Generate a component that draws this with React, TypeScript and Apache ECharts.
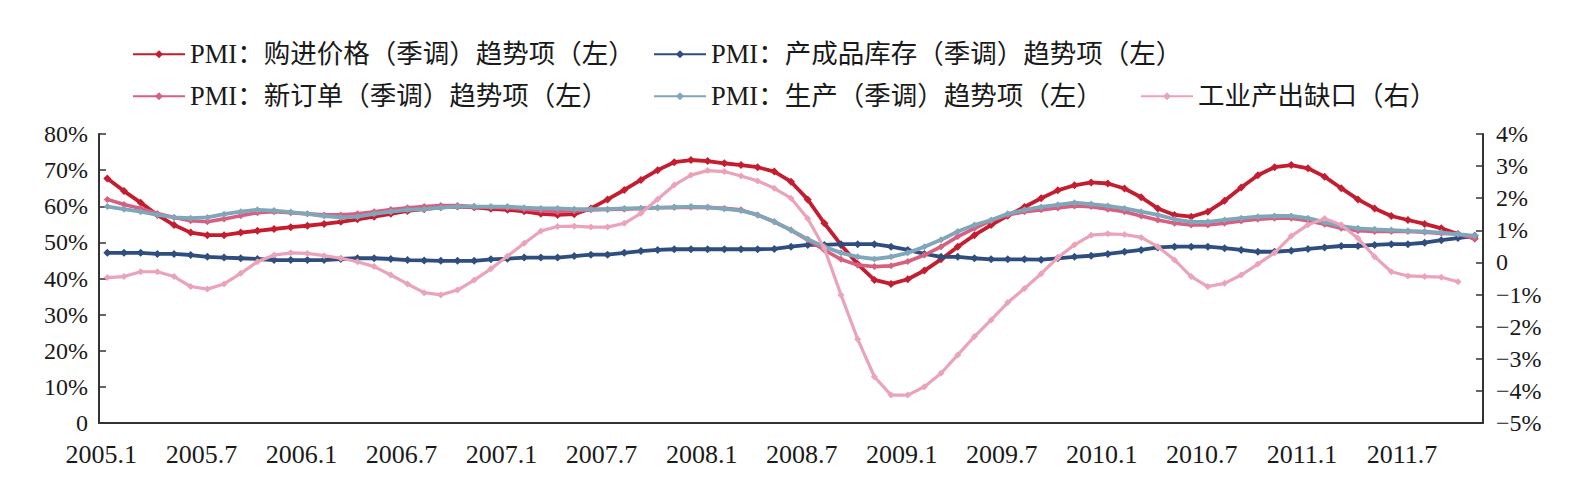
import React, { useEffect, useRef } from "react";
import * as echarts from "echarts";

const categories = [
  "2005.1", "2005.2", "2005.3", "2005.4", "2005.5", "2005.6", "2005.7", "2005.8", "2005.9", "2005.10", "2005.11", "2005.12",
  "2006.1", "2006.2", "2006.3", "2006.4", "2006.5", "2006.6", "2006.7", "2006.8", "2006.9", "2006.10", "2006.11", "2006.12",
  "2007.1", "2007.2", "2007.3", "2007.4", "2007.5", "2007.6", "2007.7", "2007.8", "2007.9", "2007.10", "2007.11", "2007.12",
  "2008.1", "2008.2", "2008.3", "2008.4", "2008.5", "2008.6", "2008.7", "2008.8", "2008.9", "2008.10", "2008.11", "2008.12",
  "2009.1", "2009.2", "2009.3", "2009.4", "2009.5", "2009.6", "2009.7", "2009.8", "2009.9", "2009.10", "2009.11", "2009.12",
  "2010.1", "2010.2", "2010.3", "2010.4", "2010.5", "2010.6", "2010.7", "2010.8", "2010.9", "2010.10", "2010.11", "2010.12",
  "2011.1", "2011.2", "2011.3", "2011.4", "2011.5", "2011.6", "2011.7", "2011.8", "2011.9", "2011.10", "2011.11",
];

const seriesNames = [
  "PMI：购进价格（季调）趋势项（左）",
  "PMI：产成品库存（季调）趋势项（左）",
  "PMI：新订单（季调）趋势项（左）",
  "PMI：生产（季调）趋势项（左）",
  "工业产出缺口（右）",
];

// left axis, %
const purchasePrice = [
  67.7, 64.2, 61.0, 57.6, 54.8, 52.7, 52.0, 52.0, 52.7, 53.2, 53.7, 54.2,
  54.6, 55.1, 55.7, 56.4, 57.1, 57.9, 58.7, 59.2, 59.7, 59.9, 59.7, 59.3,
  59.0, 58.6, 57.9, 57.6, 57.8, 59.4, 61.9, 64.5, 67.3, 70.0, 72.2, 72.8,
  72.5, 71.9, 71.4, 70.8, 69.6, 66.8, 61.9, 55.3, 49.3, 44.0, 39.6, 38.5,
  39.8, 42.2, 45.3, 48.8, 52.0, 54.8, 57.4, 59.8, 62.2, 64.4, 65.8, 66.6,
  66.3, 64.9, 62.5, 59.4, 57.6, 57.1, 58.5, 61.5, 65.2, 68.6, 70.8, 71.4,
  70.5, 68.2, 65.0, 61.9, 59.4, 57.3, 56.2, 55.1, 53.9, 52.3, 51.1,
];

const finishedInventory = [
  47.1, 47.1, 47.1, 46.8, 46.8, 46.5, 46.0, 45.8, 45.6, 45.4, 45.1, 45.1,
  45.1, 45.1, 45.4, 45.6, 45.6, 45.4, 45.1, 45.0, 44.9, 44.9, 44.9, 45.3,
  45.5, 45.8, 45.8, 45.8, 46.2, 46.6, 46.6, 47.1, 47.6, 47.9, 48.1, 48.1,
  48.1, 48.1, 48.1, 48.1, 48.2, 48.8, 49.3, 49.3, 49.5, 49.5, 49.5, 48.8,
  47.9, 46.8, 46.0, 46.0, 45.6, 45.3, 45.3, 45.3, 45.2, 45.6, 46.0, 46.3,
  46.8, 47.4, 47.9, 48.6, 48.8, 48.8, 48.8, 48.4, 47.9, 47.4, 47.4, 47.7,
  48.2, 48.6, 49.0, 49.0, 49.3, 49.5, 49.5, 49.9, 50.6, 51.2, 51.8,
];

const newOrders = [
  61.9, 60.5, 59.4, 58.0, 56.9, 56.0, 55.7, 56.5, 57.4, 58.2, 58.5, 58.2,
  57.9, 57.6, 57.6, 57.9, 58.5, 59.1, 59.6, 59.9, 60.2, 60.2, 59.9, 59.7,
  59.6, 59.2, 58.8, 58.5, 58.7, 59.0, 59.1, 59.2, 59.4, 59.6, 59.7, 59.7,
  59.7, 59.4, 59.0, 57.6, 55.7, 53.4, 50.7, 47.9, 45.3, 43.7, 43.3, 43.5,
  44.7, 46.5, 48.8, 51.6, 53.9, 56.0, 57.6, 58.5, 59.0, 59.5, 60.1, 59.9,
  59.2, 58.5, 57.3, 56.2, 55.3, 54.8, 54.8, 55.3, 55.9, 56.4, 56.7, 56.7,
  56.0, 55.0, 53.9, 53.2, 53.0, 53.0, 53.0, 52.8, 52.5, 52.3, 51.1,
];

const production = [
  59.9, 59.2, 58.5, 57.6, 56.9, 56.7, 56.9, 57.8, 58.5, 59.0, 58.8, 58.4,
  57.9, 57.3, 56.9, 57.1, 57.9, 58.5, 59.0, 59.2, 59.6, 59.9, 59.9, 59.9,
  59.9, 59.6, 59.4, 59.4, 59.2, 59.2, 59.2, 59.4, 59.4, 59.6, 59.7, 59.9,
  59.7, 59.3, 58.8, 57.6, 55.7, 53.4, 50.9, 48.8, 47.1, 46.0, 45.4, 46.0,
  47.1, 48.8, 50.7, 53.0, 54.8, 56.2, 57.9, 59.0, 59.8, 60.4, 61.0, 60.6,
  60.1, 59.4, 58.5, 57.6, 56.4, 55.7, 55.7, 56.2, 56.7, 57.1, 57.3, 57.3,
  56.7, 55.6, 54.5, 53.9, 53.6, 53.4, 53.2, 53.0, 52.7, 52.3, 51.8,
];

// right axis, %
const outputGap = [
  -0.47, -0.44, -0.29, -0.29, -0.44, -0.75, -0.83, -0.67, -0.34, 0.02, 0.23, 0.30,
  0.28, 0.21, 0.13, 0.02, -0.13, -0.39, -0.67, -0.94, -1.01, -0.86, -0.55, -0.2,
  0.2, 0.6, 0.98, 1.12, 1.13, 1.10, 1.10, 1.22, 1.53, 1.97, 2.41, 2.72,
  2.86, 2.83, 2.69, 2.54, 2.31, 2.00, 1.37, 0.44, -1.01, -2.39, -3.56, -4.13,
  -4.13, -3.87, -3.45, -2.88, -2.31, -1.79, -1.25, -0.81, -0.35, 0.15, 0.55, 0.85,
  0.89, 0.87, 0.78, 0.49, 0.08, -0.44, -0.75, -0.65, -0.39, -0.05, 0.30, 0.82,
  1.17, 1.37, 1.17, 0.75, 0.18, -0.29, -0.42, -0.44, -0.46, -0.60, null,
];

const colors = ["#C41D30", "#2F4E7E", "#D75F80", "#80A6BA", "#EBA3BA"];

const FONT = "'Liberation Serif', 'Times New Roman', 'Noto Sans CJK SC', serif";

export default function App() {
  const ref = useRef<HTMLDivElement>(null);

  useEffect(() => {
    if (!ref.current) return;
    const chart = echarts.init(ref.current, undefined, { renderer: "svg" });

    const legendText = { fontSize: 26.5, fontFamily: FONT, color: "#1a1a1a" };
    const legendBase = {
      orient: "horizontal",
      padding: 0,
      itemWidth: 52,
      itemHeight: 10,
      textStyle: legendText,
      selectedMode: false,
    };

    const axisColor = "#333";
    const mkSeries = (i: number, data: (number | null)[], yIndex: number, width: number, sym: number) => ({
      name: seriesNames[i],
      type: "line",
      yAxisIndex: yIndex,
      data,
      symbol: "diamond",
      symbolSize: sym,
      showSymbol: true,
      connectNulls: false,
      lineStyle: { color: colors[i], width },
      itemStyle: { color: colors[i] },
      z: 2 + i,
    });

    chart.setOption({
      animation: false,
      grid: { left: 99, right: 103, top: 134, bottom: 69 },
      legend: [
        { ...legendBase, data: [seriesNames[0]], left: 132, top: 41 },
        { ...legendBase, data: [seriesNames[1]], left: 653, top: 41 },
        { ...legendBase, data: [seriesNames[2]], left: 132, top: 83 },
        { ...legendBase, data: [seriesNames[3]], left: 653, top: 83 },
        { ...legendBase, data: [seriesNames[4]], left: 1140, top: 83 },
      ],
      xAxis: {
        type: "category",
        data: categories,
        boundaryGap: true,
        axisLine: { lineStyle: { color: axisColor, width: 2 } },
        axisTick: { inside: true, length: 6, interval: 2, lineStyle: { color: axisColor, width: 1.5 } },
        axisLabel: {
          interval: 5,
          fontSize: 26,
          fontFamily: FONT,
          color: "#1a1a1a",
          margin: 18,
          padding: [0, 12, 0, 0],
        },
        splitLine: { show: false },
      },
      yAxis: [
        {
          type: "value",
          min: 0,
          max: 80,
          interval: 10,
          position: "left",
          axisLine: { show: true, lineStyle: { color: axisColor, width: 2 } },
          axisTick: { show: true, inside: true, length: 7, lineStyle: { color: axisColor, width: 1.5 } },
          splitLine: { show: false },
          axisLabel: {
            fontSize: 24,
            fontFamily: FONT,
            color: "#1a1a1a",
            margin: 11,
            formatter: (v: number) => (v === 0 ? "0" : v + "%"),
          },
        },
        {
          type: "value",
          min: -5,
          max: 4,
          interval: 1,
          position: "right",
          axisLine: { show: true, lineStyle: { color: axisColor, width: 2 } },
          axisTick: { show: true, inside: true, length: 7, lineStyle: { color: axisColor, width: 1.5 } },
          splitLine: { show: false },
          axisLabel: {
            fontSize: 24,
            fontFamily: FONT,
            color: "#1a1a1a",
            margin: 13,
            formatter: (v: number) => (v === 0 ? "0" : v < 0 ? "\u2212" + Math.abs(v) + "%" : v + "%"),
          },
        },
      ],
      series: [
        mkSeries(0, purchasePrice, 0, 3.8, 8),
        mkSeries(1, finishedInventory, 0, 3.8, 8),
        mkSeries(2, newOrders, 0, 3.6, 7),
        mkSeries(3, production, 0, 3.8, 7),
        mkSeries(4, outputGap, 1, 3.2, 7),
      ],
    });

    return () => chart.dispose();
  }, []);

  return (
    <div
      ref={ref}
      style={{ position: "absolute", left: 0, top: 0, width: 1586, height: 492, background: "#fff" }}
    />
  );
}
